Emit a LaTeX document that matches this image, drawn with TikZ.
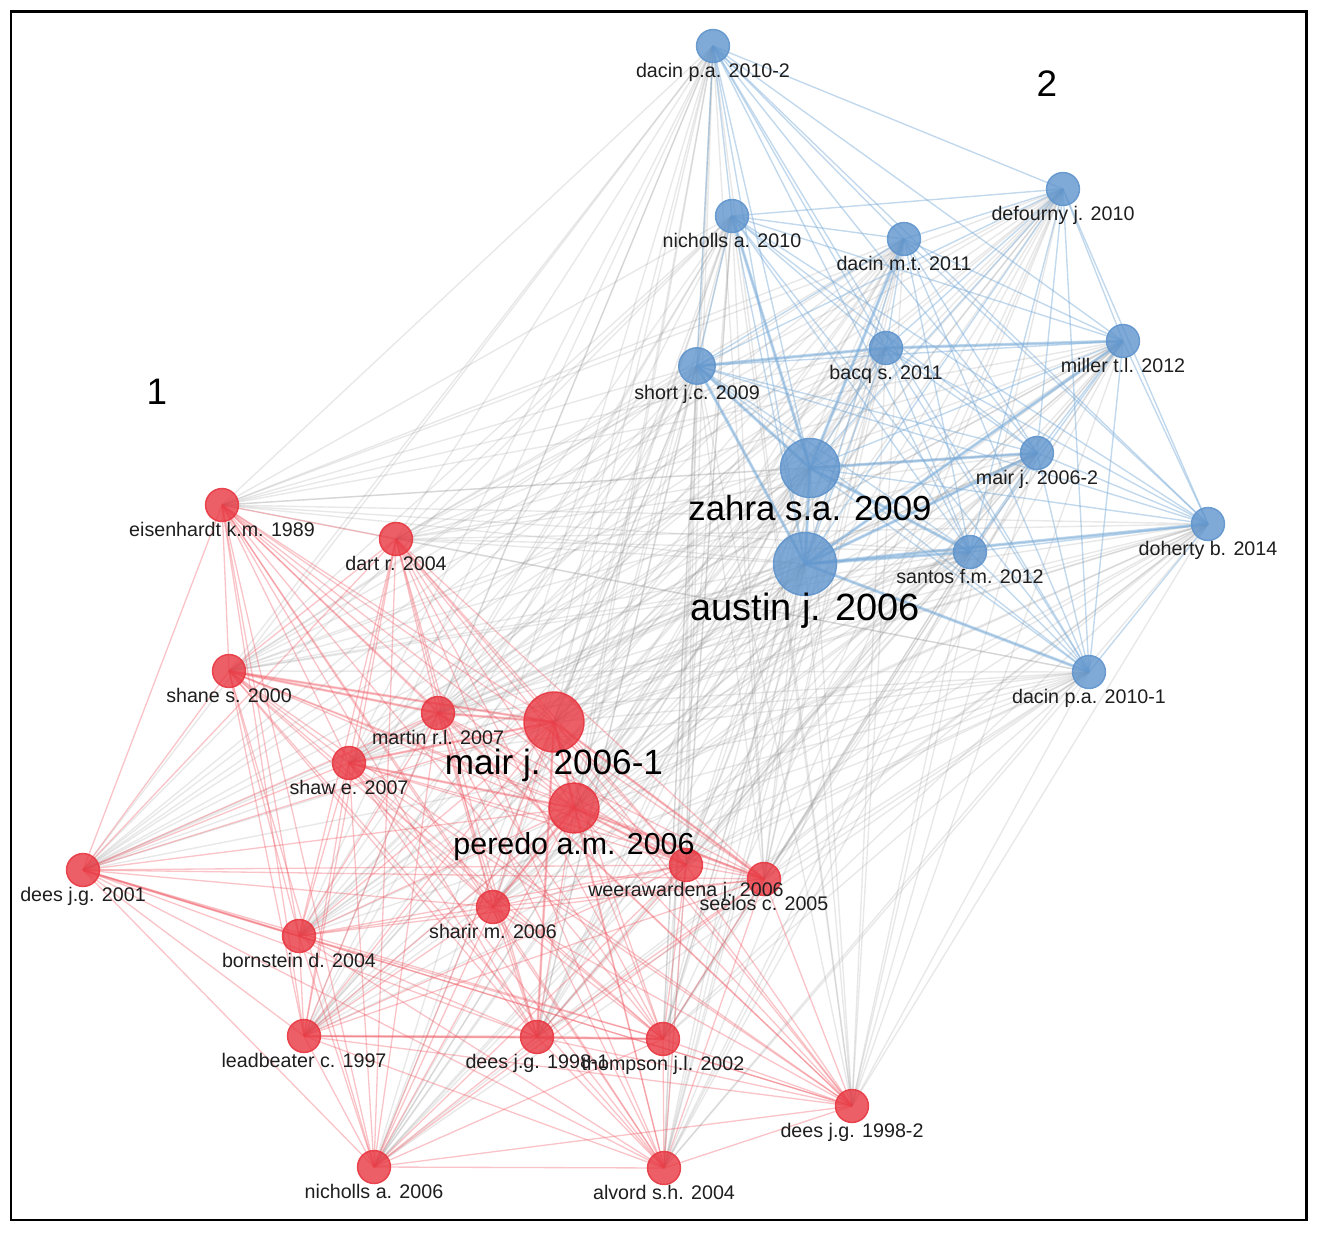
\documentclass[tikz,border=0pt]{standalone}
\usepackage{fontspec}
\setmainfont{Liberation Sans}
\usetikzlibrary{backgrounds,positioning}

\definecolor{nblue}{RGB}{95,148,204}
\definecolor{nred}{RGB}{232,55,65}
\definecolor{eblue}{RGB}{120,170,215}
\definecolor{ered}{RGB}{238,90,100}
\definecolor{egray}{RGB}{140,140,140}
\definecolor{txt}{RGB}{30,30,30}

\tikzset{
  bnode/.style={circle,inner sep=0pt,minimum size=0.66cm,fill=nblue,fill opacity=0.8,draw=nblue,draw opacity=0.9,line width=0.8pt},
  rnode/.style={circle,inner sep=0pt,minimum size=0.66cm,fill=nred,fill opacity=0.8,draw=nred,draw opacity=0.9,line width=0.8pt},
  lbl/.style={inner sep=0pt,text=txt,font=\fontsize{11.2}{13}\selectfont},
  biglbl/.style={inner sep=0pt,text=black,font=\fontsize{#1}{24}\selectfont},
  biglbl/.default=21,
  gedge/.style={draw=egray,draw opacity=0.2,line width=0.8pt},
  redge/.style={draw=ered,draw opacity=0.36,line width=0.75pt},
  bedge/.style={draw=eblue,draw opacity=0.45,line width=0.8pt},
  rthick/.style={draw=ered,draw opacity=0.3,line width=1.5pt},
  bthick/.style={draw=eblue,draw opacity=0.45,line width=1.8pt}
}

\def\redlist{eisenhardt,dart,shane,martin,mairA,shaw,peredo,deesA,weera,seelos,sharir,bornstein,leadbeater,deesB,thompson,deesC,nichollsB,alvord}
\def\bluelist{dacinpaB,nichollsA,dacinmt,defourny,bacq,miller,short,zahra,mairB,doherty,santos,austin,dacinpaA}

\begin{document}
\begin{tikzpicture}[x=0.02cm,y=-0.02cm]
  \useasboundingbox (0,0) rectangle (1319,1236);
  \draw[line width=1.7pt] (11,12) rectangle (1306,1220);

  % cluster 2
  \node[bnode] (dacinpaB) at (713,46) {};
  \node[bnode] (nichollsA) at (732,216) {};
  \node[bnode] (dacinmt) at (904,239) {};
  \node[bnode] (defourny) at (1063,189) {};
  \node[bnode] (bacq) at (886,348) {};
  \node[bnode] (miller) at (1123,341) {};
  \node[bnode,minimum size=0.73cm] (short) at (697,366) {};
  \node[bnode,minimum size=1.18cm] (zahra) at (810,468) {};
  \node[bnode] (mairB) at (1037,453) {};
  \node[bnode] (doherty) at (1208,524) {};
  \node[bnode] (santos) at (970,552) {};
  \node[bnode,minimum size=1.26cm] (austin) at (805,564) {};
  \node[bnode] (dacinpaA) at (1089,672) {};

  % cluster 1
  \node[rnode] (eisenhardt) at (222,505) {};
  \node[rnode] (dart) at (396,539) {};
  \node[rnode] (shane) at (229,671) {};
  \node[rnode] (martin) at (438,713) {};
  \node[rnode,minimum size=1.2cm] (mairA) at (554,722) {};
  \node[rnode] (shaw) at (349,763) {};
  \node[rnode,minimum size=1.0cm] (peredo) at (574,808) {};
  \node[rnode] (deesA) at (83,870) {};
  \node[rnode] (weera) at (686,865) {};
  \node[rnode] (seelos) at (764,879) {};
  \node[rnode] (sharir) at (493,907) {};
  \node[rnode] (bornstein) at (299,936) {};
  \node[rnode] (leadbeater) at (304,1036) {};
  \node[rnode] (deesB) at (537,1037) {};
  \node[rnode] (thompson) at (663,1039) {};
  \node[rnode] (deesC) at (852,1106) {};
  \node[rnode] (nichollsB) at (374,1167) {};
  \node[rnode] (alvord) at (664,1168) {};

  % labels
  \node[lbl,below=0pt of dacinpaB] (l-dacinpaB) {dacin p.a. 2010-2};
  \node[lbl,below=0pt of nichollsA] (l-nichollsA) {nicholls a. 2010};
  \node[lbl,below=0pt of dacinmt] (l-dacinmt) {dacin m.t. 2011};
  \node[lbl,below=0pt of defourny] (l-defourny) {defourny j. 2010};
  \node[lbl,below=0pt of bacq] (l-bacq) {bacq s. 2011};
  \node[lbl,below=0pt of miller] (l-miller) {miller t.l. 2012};
  \node[lbl,below=0pt of short] (l-short) {short j.c. 2009};
  \node[biglbl=19.8,below=-2pt of zahra] (l-zahra) {zahra s.a. 2009};
  \node[lbl,below=0pt of mairB] (l-mairB) {mair j. 2006-2};
  \node[lbl,below=0pt of doherty] (l-doherty) {doherty b. 2014};
  \node[lbl,below=0pt of santos] (l-santos) {santos f.m. 2012};
  \node[biglbl=21.6,below=-2pt of austin] (l-austin) {austin j. 2006};
  \node[lbl,below=0pt of dacinpaA] (l-dacinpaA) {dacin p.a. 2010-1};

  \node[lbl,below=0pt of eisenhardt] (l-eisenhardt) {eisenhardt k.m. 1989};
  \node[lbl,below=0pt of dart] (l-dart) {dart r. 2004};
  \node[lbl,below=0pt of shane] (l-shane) {shane s. 2000};
  \node[lbl,below=0pt of martin] (l-martin) {martin r.l. 2007};
  \node[biglbl=20,below=-2pt of mairA] (l-mairA) {mair j. 2006-1};
  \node[lbl,below=0pt of shaw] (l-shaw) {shaw e. 2007};
  \node[biglbl=17.3,below=-1pt of peredo] (l-peredo) {peredo a.m. 2006};
  \node[lbl,below=0pt of deesA] (l-deesA) {dees j.g. 2001};
  \node[lbl,below=0pt of weera] (l-weera) {weerawardena j. 2006};
  \node[lbl,below=0pt of seelos] (l-seelos) {seelos c. 2005};
  \node[lbl,below=0pt of sharir] (l-sharir) {sharir m. 2006};
  \node[lbl,below=0pt of bornstein] (l-bornstein) {bornstein d. 2004};
  \node[lbl,below=0pt of leadbeater] (l-leadbeater) {leadbeater c. 1997};
  \node[lbl,below=0pt of deesB] (l-deesB) {dees j.g. 1998-1};
  \node[lbl,below=0pt of thompson] (l-thompson) {thompson j.l. 2002};
  \node[lbl,below=0pt of deesC] (l-deesC) {dees j.g. 1998-2};
  \node[lbl,below=0pt of nichollsB] (l-nichollsB) {nicholls a. 2006};
  \node[lbl,below=0pt of alvord] (l-alvord) {alvord s.h. 2004};

  % cluster numbers
  \node[biglbl] (c1) at (157,392) {1};
  \node[biglbl] (c2) at (1047,84) {2};

  % links
  \begin{scope}[on background layer]
    \foreach \a in \redlist
      \foreach \b in \bluelist
        \draw[gedge] (\a.center) -- (\b.center);
    \foreach \a [count=\i] in \redlist {
      \foreach \b [count=\j] in \redlist {
        \ifnum\j>\i \draw[redge] (\a.center) -- (\b.center); \fi
      }
    }
    \foreach \a [count=\i] in \bluelist {
      \foreach \b [count=\j] in \bluelist {
        \ifnum\j>\i \draw[bedge] (\a.center) -- (\b.center); \fi
      }
    }
    \foreach \a/\b in {zahra/austin,short/zahra,short/austin,short/bacq,austin/santos,zahra/santos,
      zahra/mairB,austin/mairB,austin/dacinpaA,austin/doherty,zahra/dacinmt,zahra/nichollsA,austin/miller,bacq/miller}
      \draw[bthick] (\a.center) -- (\b.center);
    \foreach \a/\b in {mairA/peredo,mairA/martin,shane/martin,shane/mairA,shaw/mairA,shaw/peredo,peredo/weera,
      peredo/seelos,mairA/seelos,deesB/thompson,leadbeater/deesB,peredo/sharir,deesA/bornstein,mairA/deesB}
      \draw[rthick] (\a.center) -- (\b.center);
  \end{scope}
\end{tikzpicture}
\end{document}
